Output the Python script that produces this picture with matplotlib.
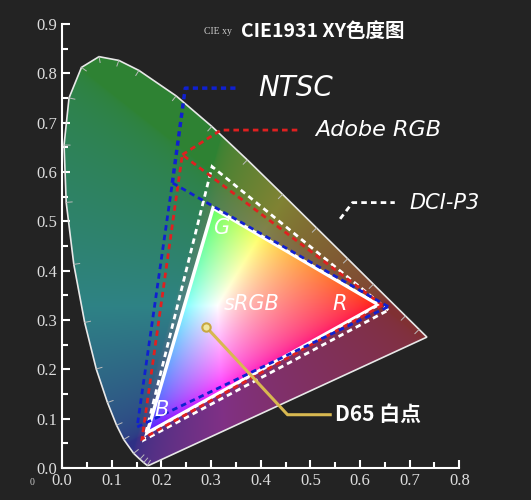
import numpy as np
import matplotlib
matplotlib.use("Agg")
import matplotlib.pyplot as plt
from matplotlib.path import Path
from matplotlib.patches import PathPatch, Polygon

# spectral locus (CIE 1931 x, y)
locus_x = [0.1741,0.1714,0.1644,0.1566,0.1440,0.1241,0.1096,0.0913,0.0687,0.0454,0.0235,0.0082,0.0039,0.0139,0.0389,0.0743,0.1142,0.1547,0.2296,0.3016,0.3731,0.4441,0.5125,0.5752,0.6270,0.6915,0.7190,0.7347]
locus_y = [0.0050,0.0051,0.0109,0.0177,0.0297,0.0578,0.0868,0.1327,0.2007,0.2950,0.4127,0.5384,0.6548,0.7502,0.8120,0.8338,0.8262,0.8059,0.7543,0.6923,0.6245,0.5547,0.4866,0.4242,0.3725,0.3083,0.2809,0.2653]

srgb_x = [0.637, 0.304, 0.171]
srgb_y = [0.331, 0.527, 0.071]
ntsc_x = [0.657, 0.222, 0.151]
ntsc_y = [0.327, 0.578, 0.083]
adobe_x = [0.645, 0.242, 0.161]
adobe_y = [0.330, 0.635, 0.059]
p3_x = [0.657, 0.302, 0.165]
p3_y = [0.320, 0.611, 0.057]
d65 = (0.290, 0.286)

BG = "#232323"
fig = plt.figure(figsize=(5.31, 5.0), dpi=100, facecolor=BG)
ax = fig.add_axes([0.117, 0.064, 0.748, 0.888], facecolor=BG)
ax.set_xlim(0, 0.8)
ax.set_ylim(0, 0.9)

# chromaticity colour image
N = 400
xs = np.linspace(0, 0.8, N)
ys = np.linspace(0, 0.9, N)
X, Y = np.meshgrid(xs, ys)
Ys = np.maximum(Y, 1e-3)
Xc = X / Ys
Zc = (1 - X - Y) / Ys
M = np.array([[3.2406, -1.5372, -0.4986], [-0.9689, 1.8758, 0.0415], [0.0557, -0.2040, 1.0570]])
XYZ = np.stack([Xc, np.ones_like(Xc), Zc], -1)
rgb = XYZ @ M.T
rgb = np.clip(rgb, 0, None)
rgb = rgb / np.maximum(rgb.max(-1, keepdims=True), 1e-6)
rgb = np.clip(rgb, 0, 1) ** (1 / 2.2)
tri = Path(np.column_stack([srgb_x, srgb_y]))
inside = tri.contains_points(np.column_stack([X.ravel(), Y.ravel()])).reshape(X.shape)
muted = 0.4 * rgb + 0.6 * np.array([0.38, 0.40, 0.42])
muted = muted * 0.8
img = np.where(inside[..., None], rgb, muted)
loc = np.column_stack([locus_x + [locus_x[0]], locus_y + [locus_y[0]]])
patch = PathPatch(Path(loc), facecolor="none", edgecolor="#e8e8e8", lw=1.2, zorder=3)
ax.add_patch(patch)
im = ax.imshow(img, extent=[0, 0.8, 0, 0.9], origin="lower", aspect="auto", zorder=1, interpolation="bilinear")
im.set_clip_path(patch)

lx = np.array(locus_x); ly = np.array(locus_y)
for i in range(1, len(lx) - 1):
    dx = lx[i + 1] - lx[i - 1]; dy = ly[i + 1] - ly[i - 1]
    n = np.hypot(dx, dy)
    nx, ny = dy / n, -dx / n
    ax.plot([lx[i], lx[i] + nx * 0.012], [ly[i], ly[i] + ny * 0.012], color="#bbbbbb", lw=0.7, zorder=3)

ax.add_patch(Polygon(np.column_stack([srgb_x, srgb_y]), closed=True, fill=False, ec="white", lw=2.5, zorder=4))
ax.add_patch(Polygon(np.column_stack([p3_x, p3_y]), closed=True, fill=False, ec="white", lw=2, ls=(0, (2, 1.5)), zorder=5))
ax.add_patch(Polygon(np.column_stack([adobe_x, adobe_y]), closed=True, fill=False, ec="#e02020", lw=2, ls=(0, (2, 1.5)), zorder=5))
ax.add_patch(Polygon(np.column_stack([ntsc_x, ntsc_y]), closed=True, fill=False, ec="#1020d0", lw=2, ls=(0, (2, 1.5)), zorder=6))

ax.plot([ntsc_x[1], 0.248, 0.35], [ntsc_y[1], 0.770, 0.770], color="#1020d0", lw=2.5, ls=(0, (1.5, 1.2)), zorder=6)
ax.plot([adobe_x[1], 0.32, 0.48], [adobe_y[1], 0.685, 0.685], color="#e02020", lw=2, ls=(0, (2, 1.5)), zorder=6)
ax.plot([0.56, 0.585, 0.67], [0.505, 0.538, 0.538], color="white", lw=2, ls=(0, (2, 1.5)), zorder=6)
ax.plot([d65[0], 0.454, 0.54], [d65[1], 0.108, 0.108], color="#d8b850", lw=2.2, zorder=7)
ax.plot(*d65, "o", ms=6, mfc="#f0e8a0", mec="#c8a840", mew=1.5, zorder=8)

tk = dict(color="white", style="italic", zorder=9, family="DejaVu Sans")
ax.text(0.395, 0.77, "NTSC", fontsize=20, va="center", **tk)
ax.text(0.51, 0.685, "Adobe RGB", fontsize=16, va="center", **tk)
ax.text(0.70, 0.538, "DCI-P3", fontsize=15, va="center", **tk)
ax.text(0.305, 0.475, "G", fontsize=15, **tk)
ax.text(0.325, 0.32, "sRGB", fontsize=15, **tk)
ax.text(0.545, 0.32, "R", fontsize=15, **tk)
ax.text(0.185, 0.105, "B", fontsize=15, **tk)
ax.text(0.55, 0.108, "D65 白点", fontsize=15, va="center", weight="bold", color="white",
        style="italic", zorder=9, family=["Noto Sans CJK SC", "DejaVu Sans"])
ax.text(0.36, 0.885, "CIE1931 XY色度图", fontsize=14, va="center", weight="bold", color="white",
        style="italic", zorder=9, family=["Noto Sans CJK SC", "DejaVu Sans"])
ax.text(0.285, 0.885, "CIE xy", fontsize=7, va="center", color="#cccccc", family="Liberation Serif")
fig.text(0.055, 0.03, "0", fontsize=7, color="#cccccc", family="Liberation Serif")

for s in ["top", "right"]:
    ax.spines[s].set_visible(False)
for s in ["left", "bottom"]:
    ax.spines[s].set_color("white"); ax.spines[s].set_linewidth(1.5)
ax.set_xticks(np.arange(0, 0.81, 0.1))
ax.set_yticks(np.arange(0, 0.91, 0.1))
ax.set_xticks(np.arange(0.05, 0.8, 0.1), minor=True)
ax.set_yticks(np.arange(0.05, 0.9, 0.1), minor=True)
ax.set_xticklabels([f"{v:.1f}" for v in np.arange(0, 0.81, 0.1)])
ax.set_yticklabels([f"{v:.1f}" for v in np.arange(0, 0.91, 0.1)])
ax.tick_params(which="both", direction="in", color="white", width=1.5)
ax.tick_params(which="major", length=6, labelsize=12, labelcolor="#dddddd")
ax.tick_params(which="minor", length=4)
for lab in ax.get_xticklabels() + ax.get_yticklabels():
    lab.set_family("Liberation Serif")

fig.savefig("out.png", dpi=100, facecolor=BG)
